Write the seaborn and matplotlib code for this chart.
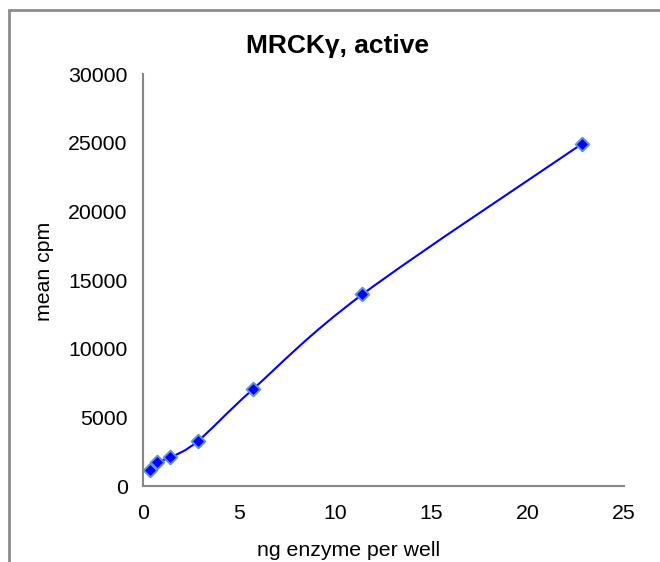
import numpy as np
import pandas as pd
import matplotlib
matplotlib.use("Agg")
import matplotlib.pyplot as plt
import seaborn as sns
from matplotlib.path import Path
from matplotlib.patches import PathPatch, Rectangle

# data
ng_enzyme = [0.356, 0.7125, 1.425, 2.85, 5.7, 11.4, 22.8]
mean_cpm = [1150, 1760, 2080, 3270, 7030, 13950, 24900]

df = pd.DataFrame({"ng": ng_enzyme, "cpm": mean_cpm})

sns.set_style("white")
plt.rcParams['font.family'] = ['Liberation Sans', 'DejaVu Sans']

fig = plt.figure(figsize=(6.6, 5.62), dpi=100)
ax = fig.add_axes([143/660, 76/562, (624-143)/660, (486-74)/562])

# smoothed line like excel (catmull-rom style bezier)
pts = df[["ng", "cpm"]].to_numpy(dtype=float)
ext = np.vstack([pts[0], pts, pts[-1]])
verts = [tuple(pts[0])]
codes = [Path.MOVETO]
for i in range(1, len(ext) - 2):
    p0, p1, p2, p3 = ext[i-1], ext[i], ext[i+1], ext[i+2]
    c1 = p1 + (p2 - p0) / 6
    c2 = p2 - (p3 - p1) / 6
    verts += [tuple(c1), tuple(c2), tuple(p2)]
    codes += [Path.CURVE4] * 3
ax.add_patch(PathPatch(Path(verts, codes), fill=False, edgecolor="#0000ff", lw=1.5, zorder=2))

sns.scatterplot(data=df, x="ng", y="cpm", ax=ax, marker="D", s=48,
                color="#0000ff", edgecolor="#5f93d6", linewidth=1.4, zorder=3)

ax.set_xlim(0, 25)
ax.set_ylim(0, 30000)
ax.set_xticks([0, 5, 10, 15, 20, 25])
ax.set_yticks(range(0, 30001, 5000))
for s in ["top", "right"]:
    ax.spines[s].set_visible(False)
for s in ["left", "bottom"]:
    ax.spines[s].set_color("#878787")
    ax.spines[s].set_linewidth(1.5)
ax.tick_params(direction="out", length=5, width=1.5, color="#878787",
               labelsize=15.3, pad=6, labelcolor="black")
ax.tick_params(axis="x", pad=8)
ax.set_xlabel("ng enzyme per well", fontsize=15.3, color="black", va="center")
ax.xaxis.set_label_coords((348.5 - 143) / 481, (486 - 551) / 412)
ax.set_ylabel("mean cpm", fontsize=15.3, color="black", va="center")
ax.yaxis.set_label_coords((44.5 - 143) / 481, (486 - 271) / 412)

fig.text(337/660, 1 - 46/562, "MRCKγ, active", ha="center", va="center",
         fontsize=19, fontweight="bold", color="black")

# outer chart border
fig.patches.append(Rectangle((9/660, -0.2), 1.2, 1 - 10/562 + 0.2,
                             transform=fig.transFigure, fill=False,
                             edgecolor="#8c8c8c", lw=2))

fig.savefig("out.png", dpi=100)
